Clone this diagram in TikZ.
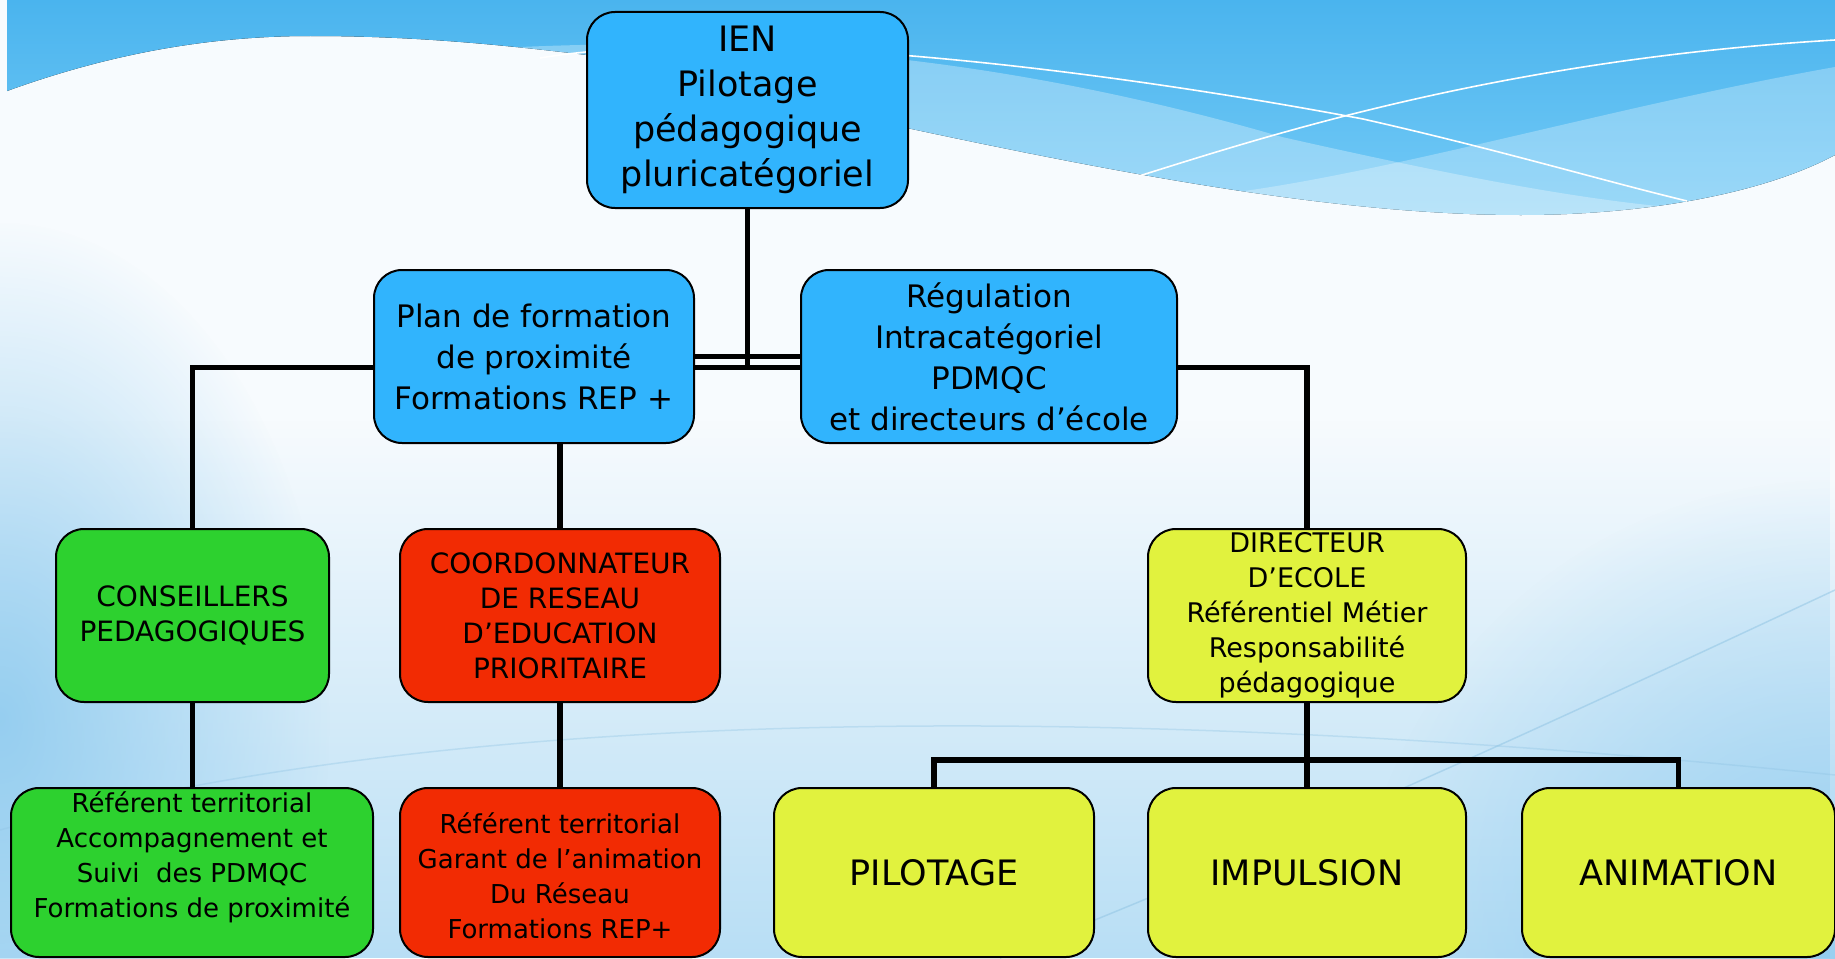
\documentclass[tikz,border=0pt]{standalone}
\usepackage{fontspec}
\setmainfont{DejaVu Sans}
\usetikzlibrary{fadings}
\definecolor{boxblue}{HTML}{31B4FD}
\definecolor{boxgreen}{HTML}{2DD12F}
\definecolor{boxred}{HTML}{F22B03}
\definecolor{boxyellow}{HTML}{E1F23E}
\definecolor{skytop}{HTML}{4AB4EE}
\definecolor{skybot}{HTML}{74CAF6}
\definecolor{bgpale}{HTML}{F7FBFE}
\definecolor{bgblue}{HTML}{A3D5F2}
\definecolor{edgeblue}{HTML}{8FCBEF}
\definecolor{faintline}{HTML}{8EC3E3}
\tikzfading[name=fadeS, top color=transparent!100, bottom color=transparent!25]
\tikzfading[name=fadeR, inner color=transparent!10, outer color=transparent!100]
\begin{document}
\begin{tikzpicture}[x=1pt,y=-1pt,
  box/.style={draw=black, line width=2pt, rounded corners=28pt, inner sep=0pt, align=center, text=black},
  conn/.style={draw=black, line width=5.5pt},
  bigfont/.style={font=\fontsize{35}{45}\selectfont},
  midfont/.style={font=\fontsize{31}{41}\selectfont},
  smallfont/.style={font=\fontsize{28}{35}\selectfont},
  dirfont/.style={font=\fontsize{27}{35}\selectfont},
  tinyfont/.style={font=\fontsize{26}{35}\selectfont},
  lbl/.style={align=center, inner sep=0pt, text=black},
  whiteline/.style={draw=white, line width=1.6pt},
  faint/.style={draw=faintline, line width=1.5pt},
]
\useasboundingbox (0,0) rectangle (1835,958);
% ---------- background ----------
\fill[bgpale] (0,0) rectangle (1835,958);
\fill[bgblue, path fading=fadeS] (0,420) rectangle (1835,958);
\fill[edgeblue, path fading=fadeR] (0,720) ellipse[x radius=330, y radius=500];
\fill[edgeblue, path fading=fadeR] (1835,958) circle[radius=480];
\draw[faint, opacity=.5] (1000,958) .. controls (1300,840) and (1600,700) .. (1835,590);
\draw[faint, opacity=.35] (0,830) .. controls (400,720) and (1000,690) .. (1835,775);
% sky
\fill[top color=skytop, bottom color=skybot] (7,0) -- (7,91) .. controls (120,50) and (220,36) .. (310,36) .. controls (400,36) and (480,42) .. (587,55) -- (907,128) .. controls (1150,180) and (1350,215) .. (1521,215) .. controls (1640,215) and (1760,195) .. (1835,155) -- (1835,0) -- cycle;
\begin{scope}
\clip (7,0) -- (7,91) .. controls (120,50) and (220,36) .. (310,36) .. controls (400,36) and (480,42) .. (587,55) -- (907,128) .. controls (1150,180) and (1350,215) .. (1521,215) .. controls (1640,215) and (1760,195) .. (1835,155) -- (1835,0) -- cycle;
\fill[white, opacity=.3] (500,48) .. controls (750,35) and (1000,55) .. (1282,137) .. controls (1450,175) and (1580,200) .. (1680,208) -- (1680,300) -- (500,300) -- cycle;
\fill[white, opacity=.28] (1200,200) -- (1237,192) .. controls (1400,170) and (1620,105) .. (1835,67) -- (1835,300) -- (1200,300) -- cycle;
\end{scope}
\draw[whiteline] (540,58) .. controls (720,28) and (1050,60) .. (1363,119) .. controls (1500,150) and (1600,180) .. (1687,201);
\draw[whiteline] (1139,176) .. controls (1270,135) and (1500,60) .. (1835,40);
% ---------- nodes ----------
\node[box, fill=boxblue, bigfont, minimum width=321pt, minimum height=196pt] (ien) at (747.5,110) {IEN\\Pilotage\\pédagogique\\pluricatégoriel};
\node[box, fill=boxblue, midfont, minimum width=320pt, minimum height=173pt] (plan) at (534,356.5) {Plan de formation\\de proximité\\Formations REP +};
\node[box, fill=boxblue, midfont, minimum width=376pt, minimum height=173pt] (reg) at (989,356.5) {Régulation\\Intracatégoriel\\PDMQC\\et directeurs d’école};
\node[box, fill=boxgreen, smallfont, minimum width=273pt, minimum height=173pt] (cons) at (192.5,615.5) {CONSEILLERS\\PEDAGOGIQUES};
\node[box, fill=boxred, smallfont, minimum width=320pt, minimum height=173pt] (coord) at (560,615.5) {COORDONNATEUR\\DE RESEAU\\D’EDUCATION\\PRIORITAIRE};
\node[box, fill=boxyellow, dirfont, minimum width=318pt, minimum height=173pt] (dir) at (1307,615.5) {DIRECTEUR\\D’ECOLE\\Référentiel Métier\\Responsabilité\\pédagogique};
\node[box, fill=boxgreen, minimum width=362pt, minimum height=169pt] (gref) at (192,872.5) {};
\node[lbl, tinyfont] (greftxt) at (192,857.5) {Référent territorial\\Accompagnement et\\Suivi\ \ des PDMQC\\Formations de proximité};
\node[box, fill=boxred, minimum width=320pt, minimum height=169pt] (rref) at (560,872.5) {};
\node[lbl, tinyfont] (rreftxt) at (560,875.5) {Référent territorial\\Garant de l’animation\\Du Réseau\\Formations REP+};
\node[box, fill=boxyellow, bigfont, minimum width=320pt, minimum height=169pt] (pil) at (934,872.5) {PILOTAGE};
\node[box, fill=boxyellow, bigfont, minimum width=318pt, minimum height=169pt] (imp) at (1307,872.5) {IMPULSION};
\node[box, fill=boxyellow, bigfont, minimum width=313pt, minimum height=169pt] (anim) at (1678.5,872.5) {ANIMATION};
% ---------- connectors ----------
\coordinate (lowbar) at (747,367);
\coordinate (bus) at (1307,760);
\draw[conn] (ien.south) -- (ien.south |- lowbar);
\draw[conn] (plan.east) -- (reg.west);
\draw[conn] ([yshift=-11pt]plan.east) -- ([yshift=-11pt]reg.west);
\draw[conn] ([yshift=-11pt]plan.west) -| (cons.north);
\draw[conn] ([yshift=-11pt]reg.east) -| (dir.north);
\draw[conn] (coord.north |- plan.south) -- (coord.north);
\draw[conn] (cons.south) -- (cons.south |- gref.north);
\draw[conn] (coord.south) -- (rref.north);
\draw[conn] (dir.south) -- (imp.north);
\draw[conn] (pil.north) |- (bus) -| (anim.north);
\end{tikzpicture}
\end{document}
